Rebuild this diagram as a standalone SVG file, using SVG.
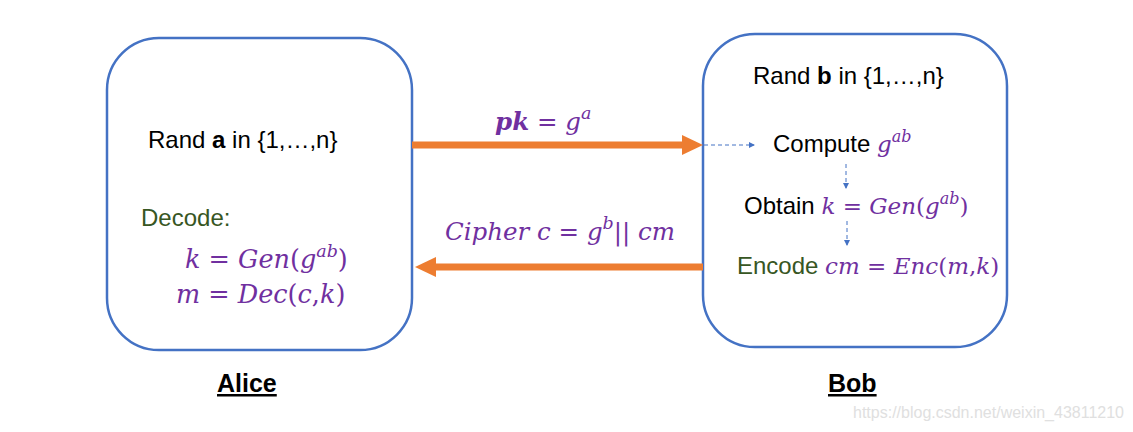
<svg xmlns="http://www.w3.org/2000/svg" width="1133" height="432" viewBox="0 0 1133 432">
<defs>
<style>
.box{fill:#fff;stroke:#4472C4;stroke-width:2.5}
.t{font-family:"Liberation Sans",Arial,sans-serif;font-size:24px;fill:#000}
.g{fill:#375623}
.m{font-family:"DejaVu Serif","Liberation Serif",serif;font-style:italic;font-size:23px;fill:#7030A0}
.ma{font-size:25.5px}
.mc{font-size:24.5px}
.mu{font-style:normal}
.sup{font-size:16px}
.ma .sup,.mc .sup{font-size:17.5px}
.big{stroke:#ED7D31;stroke-width:7;fill:none}
.dash{stroke:#4472C4;stroke-width:1;stroke-dasharray:4 3;fill:none}
.lbl{font-family:"Liberation Sans",Arial,sans-serif;font-size:25px;font-weight:bold;fill:#000;text-decoration:underline}
</style>
<marker id="oh" markerWidth="6" markerHeight="6" refX="5" refY="3" orient="auto" markerUnits="userSpaceOnUse" viewBox="0 0 6 6">
<path d="M0,0 L6,3 L0,6 z" fill="#4472C4"/>
</marker>
</defs>
<rect width="1133" height="432" fill="#fff"/>
<g id="alice">
<rect class="box" x="107" y="38" width="305" height="312" rx="52"/>
<text class="t" x="148" y="148">Rand <tspan font-weight="bold">a</tspan> in {1,…,n}</text>
<text class="t g" x="141" y="226">Decode:</text>
<text class="m ma" x="185" y="268">k <tspan class="mu">=</tspan> Gen<tspan class="mu">(</tspan>g<tspan class="sup" dy="-11">ab</tspan><tspan class="mu" dy="11">)</tspan></text>
<text class="m ma" x="176" y="303">m <tspan class="mu">=</tspan> Dec<tspan class="mu">(</tspan>c<tspan class="mu">,</tspan>k<tspan class="mu">)</tspan></text>
<text class="lbl" x="217" y="392">Alice</text>
</g>
<g id="bob">
<rect class="box" x="703" y="34" width="304" height="313" rx="52"/>
<text class="t" x="753" y="84">Rand <tspan font-weight="bold">b</tspan> in {1,…,n}</text>
<text class="t" x="773" y="152">Compute <tspan class="m">g<tspan class="sup" dy="-10">ab</tspan></tspan></text>
<text class="t" x="744" y="214">Obtain <tspan class="m">k <tspan class="mu">=</tspan> Gen<tspan class="mu">(</tspan>g<tspan class="sup" dy="-10">ab</tspan><tspan class="mu" dy="10">)</tspan></tspan></text>
<text class="t g" x="737" y="274">Encode <tspan class="m" font-size="22.5">cm <tspan class="mu">=</tspan> Enc<tspan class="mu">(</tspan>m<tspan class="mu">,</tspan>k<tspan class="mu">)</tspan></tspan></text>
<text class="lbl" x="828" y="392">Bob</text>
</g>
<g id="connectors">
<line class="big" x1="412" y1="145" x2="684" y2="145"/>
<path d="M682,135 L703,145 L682,155 z" fill="#ED7D31"/>
<text class="m mc" x="495" y="130"><tspan font-weight="bold">pk</tspan> <tspan class="mu">=</tspan> g<tspan class="sup" dy="-11">a</tspan></text>
<line class="big" x1="703" y1="267" x2="434" y2="267"/>
<path d="M436,257 L415,267 L436,277 z" fill="#ED7D31"/>
<text class="m mc" x="445" y="240">Cipher c <tspan class="mu">=</tspan> g<tspan class="sup" dy="-11">b</tspan><tspan class="mu" dy="11">||</tspan> cm</text>
<line class="dash" x1="704" y1="145" x2="754" y2="145" marker-end="url(#oh)"/>
<line class="dash" x1="846" y1="164" x2="846" y2="188" marker-end="url(#oh)"/>
<line class="dash" x1="847" y1="221" x2="847" y2="245" marker-end="url(#oh)"/>
</g>
<text x="853" y="418" font-family="Liberation Sans,Arial,sans-serif" font-size="16" fill="#e0e0e0">https://blog.csdn.net/weixin_43811210</text>
</svg>
